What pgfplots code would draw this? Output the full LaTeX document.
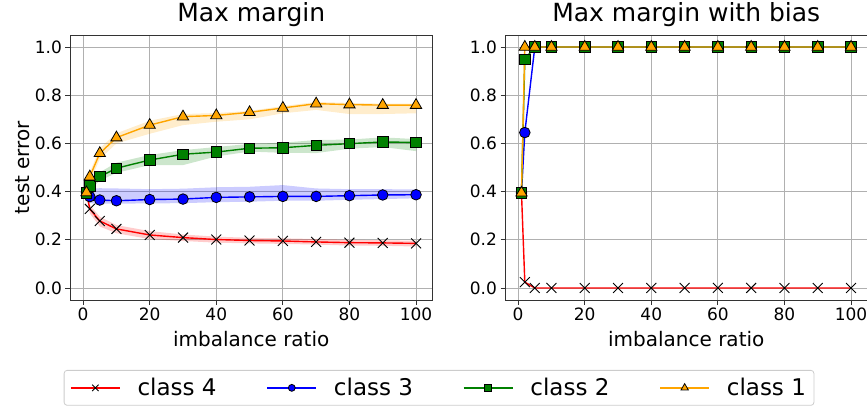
\documentclass[border=0pt]{standalone}
\usepackage{fontspec}
\setmainfont{DejaVu Sans}
\usepackage{pgfplots}
\usepackage{pgfplotstable}
\pgfplotsset{compat=1.18}

\definecolor{mplorange}{HTML}{FFA500}
\definecolor{mplgreen}{HTML}{008000}
\definecolor{gridgray}{HTML}{B0B0B0}

% mean test error per class
\pgfplotstableread{
x   c4    c3    c2    c1
1   0.395 0.395 0.395 0.396
2   0.328 0.379 0.423 0.462
5   0.278 0.365 0.462 0.559
10  0.245 0.362 0.497 0.624
20  0.220 0.367 0.531 0.676
30  0.209 0.369 0.555 0.711
40  0.201 0.376 0.564 0.716
50  0.197 0.378 0.580 0.729
60  0.195 0.380 0.582 0.747
70  0.191 0.380 0.592 0.765
80  0.188 0.383 0.599 0.761
90  0.187 0.386 0.606 0.759
100 0.185 0.387 0.604 0.759
}\leftdata

\pgfplotstableread{
x   c4    c3    c2    c1
1   0.395 0.395 0.395 0.395
2   0.024 0.645 0.949 1.000
5   0.000 1.000 1.000 1.000
10  0.000 1.000 1.000 1.000
20  0.000 1.000 1.000 1.000
30  0.000 1.000 1.000 1.000
40  0.000 1.000 1.000 1.000
50  0.000 1.000 1.000 1.000
60  0.000 1.000 1.000 1.000
70  0.000 1.000 1.000 1.000
80  0.000 1.000 1.000 1.000
90  0.000 1.000 1.000 1.000
100 0.000 1.000 1.000 1.000
}\rightdata

\pgfplotsset{
  panel/.style={
    scale only axis, width=362.5pt, height=265pt,
    xmin=-3.95, xmax=104.95, ymin=-0.05, ymax=1.05,
    xtick={0,20,40,60,80,100}, ytick={0,0.2,0.4,0.6,0.8,1.0},
    grid=major, major grid style={gridgray, line width=0.8pt},
    axis line style={black!80, line width=0.9pt},
    tick align=outside, tick pos=left, major tick length=4.5pt,
    tick style={black!80, line width=0.9pt},
    /pgf/number format/assume math mode=true,
    ticklabel style={font=\fontsize{17}{20}\selectfont},
    yticklabel style={/pgf/number format/fixed, /pgf/number format/fixed zerofill,
      /pgf/number format/precision=1},
    title style={font=\fontsize{25}{30}\selectfont, at={(axis description cs:0.5,1)},
      anchor=base, yshift=7pt},
    xlabel style={font=\fontsize{20}{24}\selectfont, at={(axis description cs:0.5,0)},
      anchor=base, yshift=-46pt},
  },
  c4/.style={red, line width=1.4pt, mark=x, mark size=7pt,
    mark options={black, line width=0.9pt}},
  c3/.style={blue, line width=1.4pt, mark=*, mark size=5.3pt,
    mark options={draw=black, fill=blue, line width=0.8pt}},
  c2/.style={mplgreen, line width=1.4pt, mark=square*, mark size=5.2pt,
    mark options={draw=black, fill=mplgreen, line width=0.8pt}},
  c1/.style={mplorange, line width=1.4pt, mark=triangle*, mark size=6.5pt,
    mark options={draw=black, fill=mplorange, line width=0.8pt}},
  band/.style={fill=#1, fill opacity=0.2, draw=none, forget plot},
}

\begin{document}
\begin{tikzpicture}
\useasboundingbox (0pt,0pt) rectangle (867pt,410pt);

\begin{axis}[panel, at={(70pt,110pt)}, anchor=south west,
  title={Max margin}, xlabel={imbalance ratio}, ylabel={test error},
  ylabel style={font=\fontsize{20}{24}\selectfont,
    at={(axis description cs:-0.132,0.5)}, anchor=center},
  legend columns=4,
  legend image code/.code={
    \draw[mark repeat=2, mark phase=2, #1, every mark/.append style={scale=0.65}]
      plot coordinates {(0pt,0pt) (24.5pt,0pt) (49pt,0pt)};
  },
  legend style={at={(axis description cs:1.018,-0.264)}, anchor=north,
    draw=black!20, line width=0.8pt, rounded corners=3pt,
    font=\fontsize{23}{27}\selectfont, inner xsep=6pt, inner ysep=6pt,
    /tikz/every odd column/.append style={column sep=15pt},
    /tikz/every even column/.append style={column sep=48pt}},
]
  % spread bands: upper edge left to right, then lower edge back
  \addplot[band=red] coordinates {
    (1,0.405) (2,0.345) (5,0.296) (10,0.261) (20,0.236) (30,0.222) (40,0.213)
    (50,0.208) (60,0.206) (70,0.203) (80,0.200) (90,0.198) (100,0.196)
    (100,0.172) (90,0.175) (80,0.176) (70,0.180) (60,0.183) (50,0.185)
    (40,0.188) (30,0.195) (20,0.203) (10,0.227) (5,0.255) (2,0.310) (1,0.385)};
  \addplot[band=blue] coordinates {
    (1,0.410) (2,0.412) (5,0.414) (10,0.413) (20,0.410) (30,0.412) (40,0.418)
    (50,0.420) (60,0.427) (70,0.413) (80,0.410) (90,0.410) (100,0.409)
    (100,0.372) (90,0.369) (80,0.366) (70,0.362) (60,0.362) (50,0.358)
    (40,0.356) (30,0.352) (20,0.351) (10,0.350) (5,0.350) (2,0.352) (1,0.385)};
  \addplot[band=mplgreen] coordinates {
    (1,0.405) (2,0.440) (5,0.480) (10,0.520) (20,0.552) (30,0.572) (40,0.585)
    (50,0.598) (60,0.603) (70,0.614) (80,0.616) (90,0.625) (100,0.618)
    (100,0.568) (90,0.585) (80,0.578) (70,0.560) (60,0.561) (50,0.566)
    (40,0.546) (30,0.510) (20,0.510) (10,0.478) (5,0.445) (2,0.405) (1,0.385)};
  \addplot[band=mplorange] coordinates {
    (1,0.405) (2,0.480) (5,0.580) (10,0.642) (20,0.694) (30,0.722) (40,0.726)
    (50,0.735) (60,0.755) (70,0.772) (80,0.768) (90,0.765) (100,0.765)
    (100,0.725) (90,0.722) (80,0.722) (70,0.739) (60,0.725) (50,0.700)
    (40,0.690) (30,0.676) (20,0.640) (10,0.600) (5,0.535) (2,0.440) (1,0.385)};
  % means
  \addplot[c4] table[x=x, y=c4]{\leftdata};
  \addlegendentry{class 4}
  \addplot[c3] table[x=x, y=c3]{\leftdata};
  \addlegendentry{class 3}
  \addplot[c2] table[x=x, y=c2]{\leftdata};
  \addlegendentry{class 2}
  \addplot[c1] table[x=x, y=c1]{\leftdata};
  \addlegendentry{class 1}
\end{axis}

\begin{axis}[panel, at={(505pt,110pt)}, anchor=south west,
  title={Max margin with bias}, xlabel={imbalance ratio}]
  \addplot[c4] table[x=x, y=c4]{\rightdata};
  \addplot[c3] table[x=x, y=c3]{\rightdata};
  \addplot[c2] table[x=x, y=c2]{\rightdata};
  \addplot[c1] table[x=x, y=c1]{\rightdata};
\end{axis}
\end{tikzpicture}
\end{document}
